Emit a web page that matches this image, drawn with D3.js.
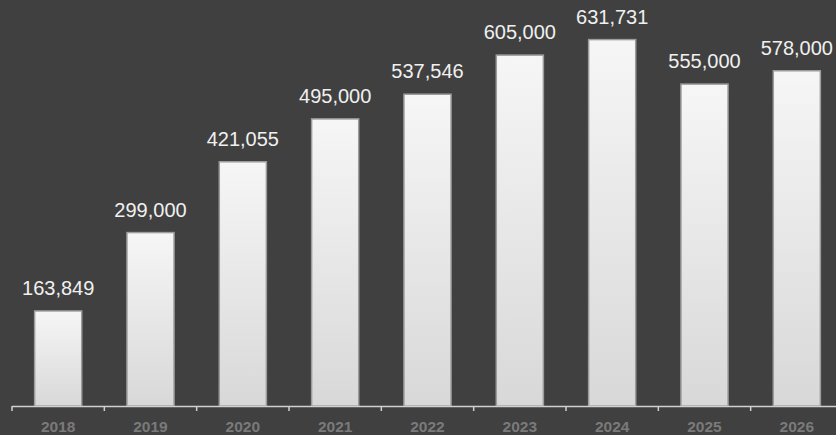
<!DOCTYPE html>
<html>
<head>
<meta charset="utf-8">
<script src="https://cdn.jsdelivr.net/npm/d3@7"></script>
<style>
  html, body { margin: 0; padding: 0; background: #404040; overflow: hidden; }
</style>
</head>
<body>
<div id="view"></div>
<script>
const years = ['2018', '2019', '2020', '2021', '2022', '2023', '2024', '2025', '2026'];
const values = [163849, 299000, 421055, 495000, 537546, 605000, 631731, 555000, 578000];

const width = 836;
const height = 435;

const svg = d3.select('#view')
    .append('svg')
        .attr('width', width)
        .attr('height', height);

// bar gradient
const grad = svg.append('defs')
    .append('linearGradient')
        .attr('id', 'barFill')
        .attr('x1', 0).attr('y1', 0)
        .attr('x2', 0).attr('y2', 1);
grad.append('stop').attr('offset', '0%').attr('stop-color', '#f6f6f6');
grad.append('stop').attr('offset', '100%').attr('stop-color', '#d8d8d8');

// X axis
const x = d3.scaleBand()
    .domain(years)
    .range([12, 843])
    .paddingInner(0.49)
    .paddingOuter(0.245);

// Y axis
const y = d3.scaleLinear()
    .domain([0, 700000])
    .range([406, 0]);

svg.selectAll('rect.bar')
    .data(values)
    .join('rect')
        .attr('class', 'bar')
        .attr('x', (d, i) => x(years[i]))
        .attr('y', d => y(d))
        .attr('width', x.bandwidth())
        .attr('height', d => y(0) - y(d))
        .attr('fill', 'url(#barFill)')
        .attr('stroke', '#9c9c9c')
        .attr('stroke-width', 1.5);

svg.selectAll('text.value')
    .data(values)
    .join('text')
        .attr('class', 'value')
        .attr('x', (d, i) => x(years[i]) + x.bandwidth() / 2)
        .attr('y', d => y(d) - 16)
        .attr('text-anchor', 'middle')
        .attr('fill', '#f0f0f0')
        .style('font-family', '"Liberation Sans", Arial, sans-serif')
        .style('font-size', '20px')
        .text(d => d3.format(',')(d));

// axis line with ticks at band edges
const axis = svg.append('g');
axis.append('line')
    .attr('x1', 12).attr('x2', width)
    .attr('y1', 406.5).attr('y2', 406.5)
    .attr('stroke', '#d0d0d0')
    .attr('stroke-width', 1.5);

const step = x.step();
const edges = years.map((d, i) => x(d) - x.paddingInner() * step / 2);
axis.selectAll('line.tick')
    .data(edges)
    .join('line')
        .attr('class', 'tick')
        .attr('x1', d => d).attr('x2', d => d)
        .attr('y1', 406).attr('y2', 411)
        .attr('stroke', '#d0d0d0')
        .attr('stroke-width', 1.5);

axis.selectAll('text.year')
    .data(years)
    .join('text')
        .attr('class', 'year')
        .attr('x', d => x(d) + x.bandwidth() / 2)
        .attr('y', 432)
        .attr('text-anchor', 'middle')
        .attr('fill', '#7a7a7a')
        .style('font-family', '"Liberation Sans", Arial, sans-serif')
        .style('font-size', '15.5px')
        .style('font-weight', 'bold')
        .text(d => d);
</script>
</body>
</html>
